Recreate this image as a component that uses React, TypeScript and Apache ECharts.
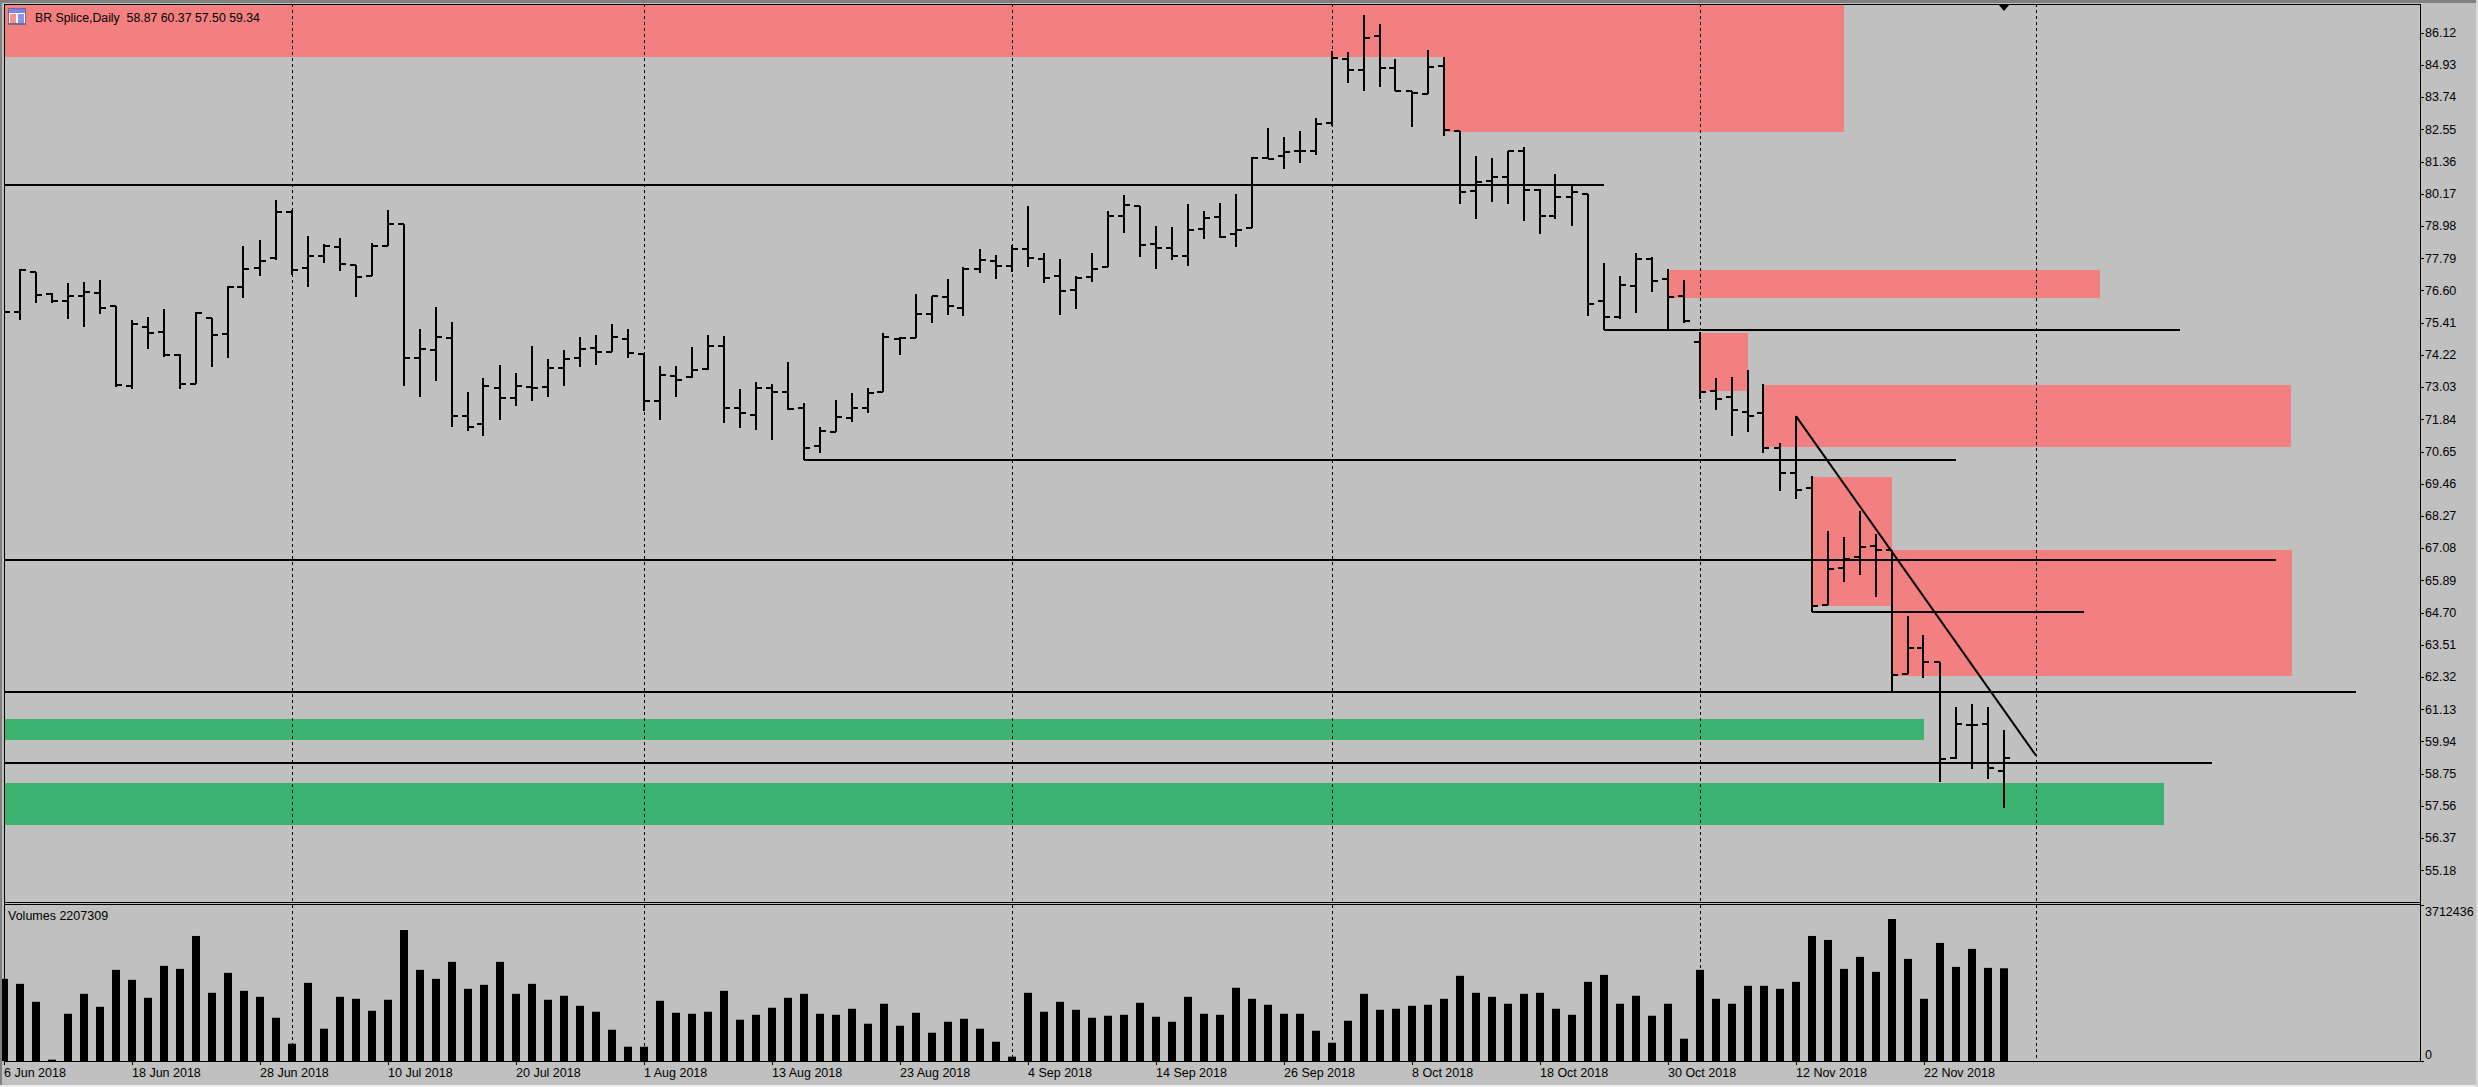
import React, { useEffect, useRef } from "react";
import * as echarts from "echarts";

const opens = [75.83,75.82,77.30,76.48,76.22,76.41,76.53,76.05,73.09,75.27,
75.08,74.21,73.16,75.61,75.00,76.75,77.45,77.82,79.50,77.45,
77.88,78.23,77.55,77.14,78.25,79.07,74.11,74.41,74.85,71.97,
71.68,73.01,72.64,73.04,73.06,73.74,74.11,74.47,74.35,74.82,
74.26,72.53,73.46,73.42,73.72,74.56,72.27,72.01,72.99,72.86,
72.28,70.85,71.38,71.88,72.25,72.86,74.82,74.85,75.74,76.35,
75.96,77.41,77.71,77.51,78.15,77.76,77.15,76.63,77.12,77.49,
79.36,79.73,78.32,78.18,77.88,78.88,79.32,78.70,78.92,81.52,
81.59,81.76,81.76,82.80,85.17,84.76,86.02,84.82,83.99,83.88,
84.90,82.50,80.28,80.65,80.81,81.77,80.32,79.36,80.07,80.18,
76.22,75.63,76.78,77.79,77.02,76.39,74.71,72.91,72.68,72.11,
72.08,70.80,69.86,69.32,65.00,66.35,66.76,67.18,67.03,62.45,
63.40,62.87,59.35,60.56,60.61,58.87];
const highs = [76.03,77.42,77.30,76.51,76.88,76.92,77.00,76.05,75.52,75.62,
75.91,74.26,75.83,75.61,76.78,78.25,78.47,79.95,79.58,78.62,
78.31,78.55,77.55,78.35,79.58,79.07,75.19,75.99,75.43,72.86,
73.38,73.86,73.55,74.56,74.06,74.41,74.89,74.96,75.37,75.19,
74.31,73.83,73.83,74.52,74.96,74.93,72.97,73.22,73.16,73.96,
72.44,71.55,72.57,72.81,73.00,75.03,74.88,76.48,76.41,77.02,
77.46,78.14,77.91,78.30,79.73,77.98,77.79,77.16,77.98,79.56,
80.15,79.73,78.99,78.94,79.79,79.55,79.83,80.17,81.55,82.60,
82.27,82.50,82.97,85.44,85.41,86.79,86.45,85.15,83.99,85.50,
85.23,82.50,81.57,81.52,81.77,81.91,80.34,80.91,80.46,80.18,
77.61,77.14,77.98,77.83,77.41,76.99,75.08,73.36,73.42,73.67,
73.16,70.99,71.97,69.74,67.73,67.50,68.47,67.63,67.03,64.58,
63.88,62.87,61.23,61.33,61.23,60.37];
const lows = [75.63,75.52,76.16,76.16,75.57,75.27,75.74,73.06,72.96,74.46,
74.17,72.96,73.16,73.80,74.11,76.32,77.15,77.73,77.18,76.72,
77.63,77.34,76.38,77.14,78.25,73.09,72.69,73.28,71.58,71.40,
71.22,71.83,72.34,72.54,72.69,73.09,73.80,73.86,74.33,74.11,
72.17,71.83,72.69,73.37,73.68,71.73,71.53,71.44,71.07,72.20,
70.35,70.60,71.38,71.74,72.07,72.86,74.21,74.85,75.40,75.72,
75.68,77.26,77.02,77.30,77.46,76.90,75.69,75.91,76.94,77.49,
78.74,77.86,77.39,77.73,77.52,78.52,78.55,78.23,78.92,81.45,
81.11,81.33,81.62,82.69,84.29,83.99,84.14,83.96,82.66,83.87,
82.33,79.82,79.25,79.86,79.81,79.19,78.70,79.24,78.99,75.67,
75.15,75.54,75.79,76.57,75.15,75.39,72.61,72.21,71.23,71.38,
70.62,69.20,68.91,64.73,65.00,65.83,66.11,65.30,61.80,62.45,
62.29,58.45,59.30,58.93,58.57,57.50];
const closes = [75.82,77.36,76.45,76.21,76.41,76.54,75.96,73.12,75.37,75.05,
74.21,73.15,75.77,74.98,76.75,77.41,77.71,79.50,77.36,77.88,
78.25,77.58,77.12,78.25,79.07,74.11,74.45,74.88,71.97,71.58,
73.09,72.64,73.09,73.02,73.73,74.08,74.45,74.35,74.89,74.31,
72.53,73.49,73.31,73.68,74.56,72.25,72.09,72.99,72.86,72.23,
70.80,71.43,71.95,72.27,72.84,74.89,74.85,75.74,76.41,76.05,
77.42,77.73,77.51,78.15,77.82,77.08,76.59,77.07,77.41,79.37,
79.78,78.30,78.18,77.88,78.86,79.29,78.57,78.84,81.52,81.46,
81.72,81.76,82.77,85.20,84.74,85.94,84.82,83.98,83.91,84.87,
82.54,80.25,80.60,80.81,81.77,80.33,79.36,80.07,80.23,76.11,
75.63,76.82,77.79,76.96,76.36,75.48,72.85,72.61,72.21,71.97,
70.80,69.86,69.25,64.96,66.32,66.70,67.12,67.03,62.42,63.40,
62.90,59.30,60.61,60.56,58.96,59.34];
const volumes = [1955000,1836000,1409000,32000,1124000,1599000,1290000,2169000,1932000,1504000,
2264000,2193000,2976000,1623000,2098000,1670000,1528000,1029000,412000,1860000,
768000,1528000,1480000,1195000,1457000,3119000,2169000,1955000,2359000,1718000,
1813000,2359000,1599000,1836000,1457000,1552000,1314000,1172000,744000,340000,
340000,1433000,1148000,1124000,1172000,1670000,982000,1100000,1267000,1504000,
1599000,1124000,1100000,1243000,887000,1362000,839000,1148000,673000,934000,
1005000,768000,459000,103000,1623000,1172000,1409000,1219000,1029000,1077000,
1100000,1385000,1053000,934000,1528000,1124000,1100000,1742000,1480000,1338000,
1124000,1124000,720000,435000,958000,1599000,1219000,1243000,1314000,1338000,
1480000,2027000,1623000,1528000,1362000,1599000,1623000,1243000,1100000,1884000,
2050000,1362000,1552000,1077000,1362000,530000,2169000,1480000,1362000,1789000,
1789000,1718000,1884000,2976000,2881000,2193000,2478000,2122000,3380000,2430000,
1480000,2810000,2240000,2668000,2216000,2207309];

const priceTicks = [86.12,84.93,83.74,82.55,81.36,80.17,78.98,77.79,76.60,75.41,74.22,73.03,71.84,70.65,69.46,68.27,67.08,65.89,64.70,63.51,62.32,61.13,59.94,58.75,57.56,56.37,55.18];
const dateTicks = ["6 Jun 2018","18 Jun 2018","28 Jun 2018","10 Jul 2018","20 Jul 2018","1 Aug 2018","13 Aug 2018","23 Aug 2018","4 Sep 2018","14 Sep 2018","26 Sep 2018","8 Oct 2018","18 Oct 2018","30 Oct 2018","12 Nov 2018","22 Nov 2018"];
const separators = [18, 40, 63, 83, 106, 127];
// [first bar, last bar, upper price, lower price]
const redZones = [
  [0, 115, 88, 85.22],
  [90, 115, 88, 82.46],
  [104, 131, 77.37, 76.33],
  [106, 109, 75.04, 72.89],
  [110, 143, 73.12, 70.84],
  [113, 118, 69.73, 64.96],
  [118, 143, 67.03, 62.38],
];
const greenZones = [
  [0, 120, 60.78, 59.99],
  [0, 135, 58.41, 56.85],
];
// [from bar, from price, to bar, to price]
const drawnLines = [
  [0, 80.51, 100, 80.51],
  [50, 70.35, 122, 70.35],
  [100, 75.15, 136, 75.15],
  [0, 66.64, 142, 66.64],
  [113, 64.74, 130, 64.74],
  [0, 61.79, 147, 61.79],
  [0, 59.16, 138, 59.16],
  [112, 71.97, 127, 59.43],
];
const chartTitle = "BR Splice,Daily  58.87 60.37 57.50 59.34";
const volumeTitle = "Volumes 2207309";
const maxVolume = 3712436;
const SLOTS = 152;

const categories = Array.from({ length: SLOTS }, (_, i) => String(i));
const FONT = "'Liberation Sans', sans-serif";
const isDateTick = (i: number) => i % 8 === 0 && i / 8 < dateTicks.length;

function zoneItem(color: string) {
  return (_: any, api: any) => {
    const a = api.coord([api.value(0), api.value(2)]);
    const b = api.coord([api.value(1), api.value(3)]);
    return { type: "rect", shape: { x: Math.floor(a[0]), y: Math.round(a[1]), width: Math.round(b[0] - a[0]), height: Math.round(b[1] - a[1]) }, style: { fill: color, stroke: null } };
  };
}

function barItem(_: any, api: any) {
  const i = api.value(0);
  const x = Math.floor(api.coord([i, 60])[0]);
  const y = (v: number) => Math.round(api.coord([i, v])[1]);
  const line = (x1: number, y1: number, x2: number, y2: number) => ({ type: "line", shape: { x1, y1, x2, y2 }, style: { stroke: "#000", lineWidth: 2 } });
  return { type: "group", children: [
    line(x, y(api.value(2)), x, y(api.value(3))),
    line(x - 6, y(api.value(1)), x, y(api.value(1))),
    line(x, y(api.value(4)), x + 6, y(api.value(4))),
  ] };
}

function segmentItem(_: any, api: any) {
  const a = api.coord([api.value(0), api.value(1)]);
  const b = api.coord([api.value(2), api.value(3)]);
  const flat = api.value(1) === api.value(3);
  return { type: "line", shape: { x1: Math.floor(a[0]), y1: flat ? Math.round(a[1]) : a[1], x2: Math.floor(b[0]), y2: flat ? Math.round(b[1]) : b[1] }, style: { stroke: "#000", lineWidth: 2 } };
}

function separatorItem(params: any, api: any) {
  const x = Math.floor(api.coord([api.value(0), 60])[0]) + 0.5;
  const sys = params.coordSys;
  return { type: "line", shape: { x1: x, y1: sys.y, x2: x, y2: sys.y + sys.height }, style: { stroke: "#000", lineWidth: 1, lineDash: [3, 3] } };
}

const rect = (x: number, y: number, width: number, height: number, fill: string, z = 20) => ({ type: "rect", shape: { x, y, width, height }, style: { fill }, z, silent: true });
const label = (text: string, x: number, y: number, size: number) => ({ type: "text", x, y, z: 30, silent: true, style: { text, fill: "#000", font: `${size}px ${FONT}`, verticalAlign: "middle" } });

export default function App() {
  const ref = useRef<HTMLDivElement>(null);
  useEffect(() => {
    document.body.style.margin = "0";
    document.body.style.background = "#c0c0c0";
    const chart = echarts.init(ref.current!, undefined, { renderer: "svg" });
    chart.setOption({
      animation: false,
      backgroundColor: "#c0c0c0",
      grid: [
        { left: 4, top: 4, width: 2416, height: 898, show: false },
        { left: 4, top: 905, width: 2416, height: 156, show: false },
      ],
      xAxis: [
        { type: "category", gridIndex: 0, data: categories, boundaryGap: false, show: false },
        {
          type: "category", gridIndex: 1, data: categories, boundaryGap: false,
          axisLine: { show: false },
          axisTick: { show: true, length: 4, interval: (i: number) => isDateTick(i), lineStyle: { color: "#000", width: 1 } },
          axisLabel: { show: true, interval: (i: number) => isDateTick(i), formatter: (_: string, i: number) => dateTicks[i / 8] ?? "", align: "left", margin: 5, color: "#000", fontFamily: FONT, fontSize: 12.5, hideOverlap: false },
          splitLine: { show: false },
        },
      ],
      yAxis: [
        {
          type: "value", gridIndex: 0, position: "right", min: 54.02, max: 87.191, scale: true,
          axisLine: { show: false }, splitLine: { show: false },
          axisTick: { show: true, length: 4, customValues: priceTicks, lineStyle: { color: "#000", width: 1 } },
          axisLabel: { show: true, customValues: priceTicks, formatter: (v: number) => v.toFixed(2), margin: 5, color: "#000", fontFamily: FONT, fontSize: 12.5 },
        },
        {
          type: "value", gridIndex: 1, position: "right", min: 0, max: maxVolume,
          axisLine: { show: false }, splitLine: { show: false },
          axisTick: { show: true, length: 4, customValues: [0, maxVolume], lineStyle: { color: "#000", width: 1 } },
          axisLabel: { show: true, customValues: [0, maxVolume], formatter: (v: number) => String(v), margin: 5, color: "#000", fontFamily: FONT, fontSize: 12.5, verticalAlignMinLabel: "bottom", verticalAlignMaxLabel: "top" },
        },
      ],
      series: [
        { type: "custom", name: "red zones", xAxisIndex: 0, yAxisIndex: 0, z: 1, clip: true, silent: true, data: redZones, renderItem: zoneItem("#f28080"), encode: { x: [0, 1], y: [2, 3] } },
        { type: "custom", name: "green zones", xAxisIndex: 0, yAxisIndex: 0, z: 1, clip: true, silent: true, data: greenZones, renderItem: zoneItem("#3cb371"), encode: { x: [0, 1], y: [2, 3] } },
        { type: "custom", name: "period separators", xAxisIndex: 0, yAxisIndex: 0, z: 2, silent: true, data: separators.map((s) => [s]), renderItem: separatorItem, encode: { x: 0 } },
        { type: "custom", name: "BR Splice", xAxisIndex: 0, yAxisIndex: 0, z: 3, clip: true, silent: true, data: opens.map((o, i) => [i, o, highs[i], lows[i], closes[i]]), renderItem: barItem, encode: { x: 0, y: [1, 2, 3, 4] } },
        { type: "custom", name: "drawn lines", xAxisIndex: 0, yAxisIndex: 0, z: 4, clip: true, silent: true, data: drawnLines, renderItem: segmentItem, encode: { x: [0, 2], y: [1, 3] } },
        { type: "custom", name: "period separators volume", xAxisIndex: 1, yAxisIndex: 1, z: 2, silent: true, data: separators.map((s) => [s]), renderItem: separatorItem, encode: { x: 0 } },
        { type: "bar", name: "Volumes", xAxisIndex: 1, yAxisIndex: 1, z: 3, silent: true, barWidth: 8, data: volumes, itemStyle: { color: "#000" }, clip: true },
      ],
      graphic: [
        rect(0, 0, 2476, 3, "#808080"),
        rect(0, 0, 2, 1085, "#808080"),
        rect(0, 1085, 2478, 2, "#ececec"),
        rect(2476, 0, 2, 1087, "#d8d8d8"),
        rect(4, 4, 2417, 1, "#000"),
        rect(4, 4, 1, 1058, "#000"),
        rect(2420, 4, 1, 1058, "#000"),
        rect(4, 902, 2417, 1, "#000"),
        rect(4, 904, 2417, 1, "#000"),
        rect(4, 1061, 2417, 1, "#000"),
        { type: "polygon", z: 25, silent: true, shape: { points: [[1998, 4], [2010, 4], [2004, 11]] }, style: { fill: "#000" } },
        rect(8, 8, 18, 17, "#707080", 26),
        rect(9, 9, 16, 4, "#8080e8", 27),
        rect(9, 13, 16, 10, "#ffffff", 27),
        rect(10, 14, 6, 9, "#f09090", 28),
        rect(18, 14, 6, 9, "#9090f0", 28),
        label(chartTitle, 35, 18, 12.3),
        label(volumeTitle, 8, 916, 12.5),
      ],
    });
    return () => chart.dispose();
  }, []);
  return <div ref={ref} style={{ width: 2478, height: 1087 }} />;
}
